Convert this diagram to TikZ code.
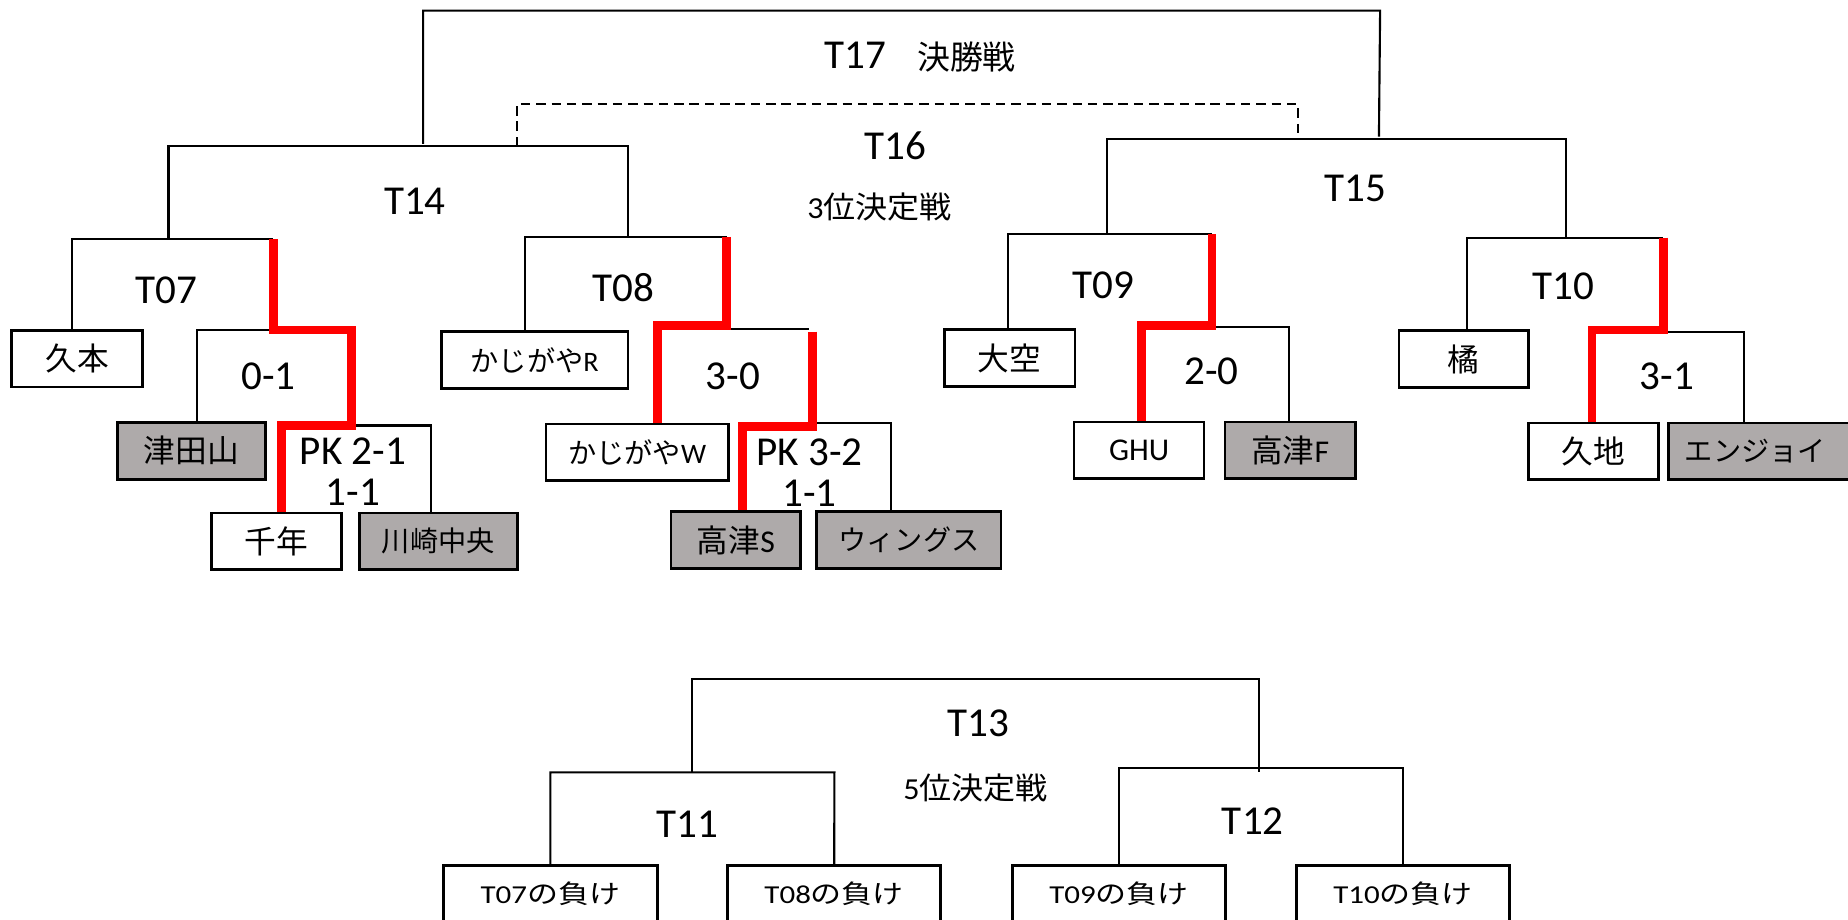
\documentclass[tikz,border=0pt]{standalone}
\usepackage{fontspec}
\setmainfont{Carlito}
\newfontfamily\jp{Noto Sans CJK JP}
\definecolor{loser}{RGB}{174,170,170}
\definecolor{winred}{RGB}{255,0,0}
\newcommand{\fs}[1]{\fontsize{#1}{#1}\selectfont}
\tikzset{
  brk/.style={line width=1.8bp},
  dashbrk/.style={line width=1.8bp, dash pattern=on 8bp off 5bp},
  win/.style={draw=winred, line width=7.5bp, line join=miter},
  team/.style={draw, line width=2.2bp, fill=white, minimum height=48bp, inner sep=0pt, font=\fs{27}\jp},
  lost/.style={team, fill=loser},
  smallteam/.style={font=\fs{24}\jp},
  lbl/.style={inner sep=0pt, font=\fs{35}},
  sublbl/.style={inner sep=0pt, font=\fs{26}\jp},
  bottomteam/.style={team, minimum height=48bp, font=\fs{22}\jp},
}
\begin{document}
\begin{tikzpicture}[x=1bp, y=-1bp]
\useasboundingbox (0,0) rectangle (1568,780);
\clip (0,0) rectangle (1568,780);

% ---------- named coordinates of bracket corners ----------
\coordinate (s14) at (359,122);
\coordinate (f17R) at (1171,9);
\coordinate (s15) at (1170,116);
\coordinate (d14) at (439,124);
\coordinate (d16) at (1101,88);
\coordinate (d15) at (1101,115);
\coordinate (m07) at (143,203);
\coordinate (m14R) at (533,124);
\coordinate (m08) at (533,201);
\coordinate (m09) at (939,199);
\coordinate (m15R) at (1329,118);
\coordinate (m10) at (1329,201.5);
\coordinate (t07L) at (61,203);
\coordinate (t07R) at (232,203);
\coordinate (r07a) at (298,280);
\coordinate (r07b) at (239,361);
\coordinate (b01L) at (167.5,280);
\coordinate (pkR) at (366,361);
\coordinate (t08L) at (445.5,201);
\coordinate (t08R) at (616.6,201);
\coordinate (r08a) at (558,276.5);
\coordinate (b30L) at (558,279.5);
\coordinate (b30R) at (686,279.5);
\coordinate (r30a) at (689.7,281.4);
\coordinate (r30b) at (630,362);
\coordinate (pk2L) at (630,358.6);
\coordinate (pk2R) at (756,358.6);
\coordinate (t09L) at (855.6,198.8);
\coordinate (t09R) at (1028.3,198.8);
\coordinate (r09a) at (968.7,276.4);
\coordinate (b20L) at (968.7,277.7);
\coordinate (b20R) at (1094,277.7);
\coordinate (t10L) at (1244.5,201.7);
\coordinate (t10R) at (1411.3,201.7);
\coordinate (r10a) at (1350.8,280);
\coordinate (b31L) at (1350.8,281.4);
\coordinate (b31R) at (1479.8,281.4);
\coordinate (b13L) at (587,655.3);
\coordinate (b13T) at (1068,576.4);
\coordinate (b13R) at (1068,655.3);
\coordinate (b11T) at (708,655.3);
\coordinate (b12T) at (1190.5,652);

% ---------- team boxes ----------
\node[team, minimum width=111bp] (kumoto) at (65.5,304.5) {久本};
\node[lost, minimum width=126bp] (tsuda) at (162.5,382.6) {津田山};
\node[team, minimum width=110bp] (chitose) at (234.7,459.3) {千年};
\node[lost, smallteam, minimum width=134bp] (kawa) at (371.9,459.3) {川崎中央};
\node[team, smallteam, minimum width=158.5bp] (kajiR) at (453.7,305.5) {かじがや\rmfamily R};
\node[team, smallteam, minimum width=154.7bp] (kajiW) at (540.7,383.8) {かじがや\rmfamily W};
\node[lost, minimum width=110bp] (takaS) at (624.4,458.2) {高津\rmfamily S};
\node[lost, smallteam, minimum width=156.5bp] (wings) at (771.2,458.2) {ウィングス};
\node[team, minimum width=110.8bp] (ozora) at (856.7,303.7) {大空};
\node[team, minimum width=110.3bp, font=\fs{27}] (ghu) at (966.5,382.1) {GHU};
\node[lost, minimum width=110.6bp] (takaF) at (1094.7,382.1) {高津\rmfamily F};
\node[team, minimum width=110bp] (tachi) at (1242,304.6) {橘};
\node[team, minimum width=110.3bp] (kuji) at (1352,383) {久地};
\node[lost, smallteam, minimum width=170bp, text width=150bp, align=left] (enjoy) at (1500.6,383) {\hspace*{4bp}エンジョイ};
\node[bottomteam, minimum width=181.6bp] (l07) at (467,758.5) {\scalebox{1.2}[1]{\rmfamily T07\jp の負け}};
\node[bottomteam, minimum width=180.8bp] (l08) at (707.8,758.5) {\scalebox{1.2}[1]{\rmfamily T08\jp の負け}};
\node[bottomteam, minimum width=181bp] (l09) at (949.5,758.5) {\scalebox{1.2}[1]{\rmfamily T09\jp の負け}};
\node[bottomteam, minimum width=181bp] (l10) at (1190.5,758.5) {\scalebox{1.2}[1]{\rmfamily T10\jp の負け}};

% ---------- black brackets ----------
\draw[brk] (s14) |- (f17R) -- (s15);
\draw[dashbrk] (d14) |- (d16) -- (d15);
\draw[brk] (m07) |- (m14R) -- (m08);
\draw[brk] (m09) |- (m15R) -- (m10);
\draw[brk] (kumoto.north -| t07L) |- (t07R);
\draw[brk] (tsuda.north -| b01L) |- (r07a);
\draw[brk] (r07b) -- (pkR) -- (kawa.north -| pkR);
\draw[brk] (chitose.north -| r07b) -- (r07b);
\draw[brk] (kajiR.north -| t08L) |- (t08R);
\draw[brk] (b30L) -- (b30R);
\draw[brk] (pk2L) -- (pk2R) -- (wings.north -| pk2R);
\draw[brk] (ozora.north -| t09L) |- (t09R);
\draw[brk] (b20L) -- (b20R) -- (takaF.north -| b20R);
\draw[brk] (tachi.north -| t10L) |- (t10R);
\draw[brk] (b31L) -- (b31R) -- (enjoy.north -| b31R);
\draw[brk] (b13L) |- (b13T) -- (b13R);
\draw[brk] (l07.north) |- (b11T) -- (l08.north);
\draw[brk] (l09.north) |- (b12T) -- (l10.north);

% ---------- winners' paths ----------
\draw[win] (t07R) |- (r07a) |- (r07b) -- (chitose.north -| r07b);
\draw[win] (t08R) |- (r08a) -- (kajiW.north -| r08a);
\draw[win] (r30a) |- (r30b) -- (takaS.north -| r30b);
\draw[win] (t09R) |- (r09a) -- (ghu.north -| r09a);
\draw[win] (t10R) |- (r10a) -- (kuji.north -| r10a);

% ---------- labels ----------
\node[lbl] (n17) at (726,47) {T17};
\node[sublbl, font=\fs{28}\jp] (n17s) at (820,48.5) {決勝戦};
\node[lbl] (n16) at (760,123.4) {T16};
\node[sublbl] (n16s) at (746.4,175.4) {\scalebox{1.05}[1]{\rmfamily 3\jp 位決定戦}};
\node[lbl] (n14) at (352,170.4) {T14};
\node[lbl] (n15) at (1150,159.8) {T15};
\node[lbl] (n07) at (141,246.4) {T07};
\node[lbl] (n08) at (529,244) {T08};
\node[lbl] (n09) at (936,241.8) {T09};
\node[lbl] (n10) at (1326.5,243.3) {T10};
\node[lbl] (s07) at (227.7,318.9) {0-1};
\node[lbl] (s08) at (621.8,318.9) {3-0};
\node[lbl] (s09) at (1028,315.4) {2-0};
\node[lbl] (s10) at (1414.4,319.3) {3-1};
\node[lbl, align=center] (pk1) at (299.5,400.3) {PK 2-1\\1-1};
\node[lbl, align=center] (pk2) at (687,401) {PK 3-2\\1-1};
\node[lbl] (n13) at (830,613.7) {T13};
\node[sublbl] (n13s) at (827.7,668.9) {\scalebox{1.05}[1]{\rmfamily 5\jp 位決定戦}};
\node[lbl] (n11) at (583,699) {T11};
\node[lbl] (n12) at (1063,697) {T12};
\end{tikzpicture}
\end{document}
